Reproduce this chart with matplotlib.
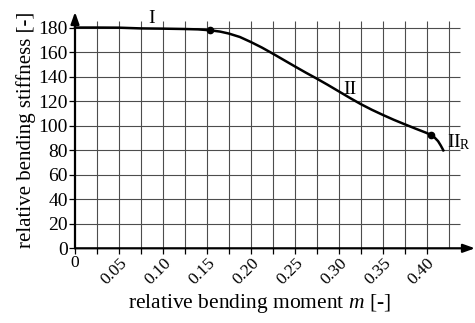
import matplotlib.pyplot as plt
import numpy as np

plt.rcParams['font.family'] = ['Liberation Serif', 'DejaVu Serif']
plt.rcParams['mathtext.fontset'] = 'custom'
plt.rcParams['mathtext.it'] = 'Liberation Serif:italic'
plt.rcParams['mathtext.rm'] = 'Liberation Serif'

# curve
m_vals = [0.0, 0.025, 0.05, 0.075, 0.10, 0.125, 0.14, 0.153, 0.165, 0.175, 0.1875,
          0.20, 0.2125, 0.225, 0.2375, 0.25, 0.2625, 0.275, 0.2875, 0.30, 0.3125,
          0.325, 0.3375, 0.35, 0.3625, 0.375, 0.3875, 0.40, 0.405, 0.409, 0.413,
          0.416, 0.419]
stiff_vals = [180.3, 180.3, 180.2, 179.6, 179.4, 179.1, 178.8, 178.1, 177.0, 175.4, 172.6,
              168.5, 164.0, 159.0, 153.8, 148.6, 143.5, 138.6, 133.5, 128.2, 122.9,
              117.8, 113.2, 109.0, 105.0, 101.3, 97.7, 94.2, 92.5, 90.5, 87.5,
              84.0, 80.0]

# marked points (region boundaries)
dot_m = [0.153, 0.405]
dot_s = [178.1, 92.5]

# region labels
region_labels = ['I', 'II', r'II$_\mathregular{R}$']
label_m = [0.087, 0.3125, 0.4365]
label_s = [188, 130, 87]

x_ticklabels = ['0', '0.05', '0.10', '0.15', '0.20', '0.25', '0.30', '0.35', '0.40']
y_ticks = list(range(0, 181, 20))

fig = plt.figure(figsize=(4.75, 3.23), dpi=100)
ax = fig.add_axes([75 / 475, 74.7 / 323, 400 / 475, 236.3 / 323])
ax.set_xlim(0, 0.455)
ax.set_ylim(0, 193)

# grid
grid_x = np.arange(1, 18) * 0.025
ax.vlines(grid_x, 0, 185.5, color='0.3', lw=0.8, zorder=1)
ax.hlines(y_ticks[1:], 0, 0.4375, color='0.3', lw=0.8, zorder=1)

for s in ax.spines.values():
    s.set_visible(False)

# axes with arrows
ax.annotate('', xy=(0.455, 0), xytext=(0, 0), annotation_clip=False,
            arrowprops=dict(arrowstyle='-|>,head_length=0.7,head_width=0.25',
                            color='k', lw=1.6, shrinkA=0, shrinkB=0))
ax.annotate('', xy=(0, 193), xytext=(0, 0), annotation_clip=False,
            arrowprops=dict(arrowstyle='-|>,head_length=0.7,head_width=0.25',
                            color='k', lw=1.6, shrinkA=0, shrinkB=0))

ax.plot(m_vals, stiff_vals, color='k', lw=1.8, zorder=3, clip_on=False)
ax.plot(dot_m, dot_s, 'o', color='k', ms=4.5, zorder=4)

for t, xm, ys in zip(region_labels, label_m, label_s):
    ax.text(xm, ys, t, fontsize=14, ha='center', va='center', color='k')

ax.set_xticks(np.arange(0, 17) * 0.025)
ax.set_xticklabels([x_ticklabels[i // 2] if i % 2 == 0 else '' for i in range(17)],
                   rotation=45, ha='right', rotation_mode='anchor', fontsize=12.5)
ax.get_xticklabels()[0].set_rotation(0)
ax.get_xticklabels()[0].set_ha('center')
ax.set_yticks(y_ticks)
ax.set_yticklabels([str(v) for v in y_ticks], fontsize=14)
ax.tick_params(direction='out', length=4, width=0.9, color='k', pad=1)

ax.set_xlabel(r'relative bending moment $m$ [-]', fontsize=15.5)
ax.xaxis.set_label_coords(0.461, -0.185)
ax.set_ylabel('relative bending stiffness [-]', fontsize=15, labelpad=2)

fig.savefig('out.png', dpi=100)
